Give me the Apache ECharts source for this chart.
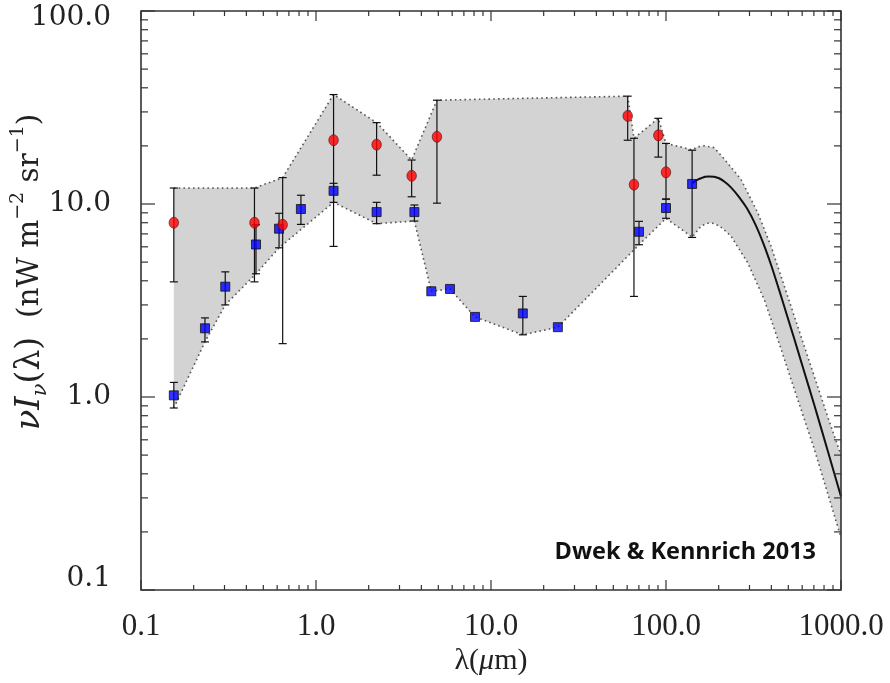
<!DOCTYPE html>
<html><head><meta charset="utf-8">
<script src="https://cdn.jsdelivr.net/npm/echarts@6/dist/echarts.min.js"></script>
<style>html,body{margin:0;padding:0;background:#fff}#c{width:890px;height:683px}</style>
</head><body><div id="c"></div>
<script>
// ---- data ----
const xTickLabels = ['0.1', '1.0', '10.0', '100.0', '1000.0'];
const yTickLabels = ['0.1', '1.0', '10.0', '100.0'];
const xMajor = [0.1, 1, 10, 100, 1000];
const yMajor = [0.1, 1, 10, 100];
const xMinor = [0.2,0.3,0.4,0.5,0.6,0.7,0.8,0.9, 2,3,4,5,6,7,8,9, 20,30,40,50,60,70,80,90, 200,300,400,500,600,700,800,900];
const yMinor = [0.2,0.3,0.4,0.5,0.6,0.7,0.8,0.9, 2,3,4,5,6,7,8,9, 20,30,40,50,60,70,80,90];

// red circles
const redX  = [0.154, 0.445, 0.645, 1.26, 2.22, 3.52, 4.91, 60.4, 65.6, 90.4, 100];
const redY  = [8.0, 8.0, 7.8, 21.4, 20.3, 14.0, 22.3, 28.6, 12.6, 22.7, 14.6];
const redHi = [12.1, 12.1, 13.7, 36.9, 26.4, 16.9, 34.5, 36.2, 21.9, 27.8, 20.6];
const redLo = [3.95, 3.95, 1.89, 6.03, 14.1, 10.9, 10.1, 21.4, 3.32, 17.5, 10.6];

// blue squares
const blueX  = [0.154, 0.232, 0.303, 0.454, 0.615, 0.82, 1.26, 2.22, 3.65, 4.56, 5.83, 8.1, 15.2, 24.1, 70.1, 100, 141];
const blueY  = [1.02, 2.27, 3.73, 6.17, 7.45, 9.42, 11.7, 9.08, 9.08, 3.53, 3.63, 2.60, 2.71, 2.30, 7.18, 9.53, 12.7];
const blueHi = [1.19, 2.57, 4.45, 7.8, 8.95, 11.1, 12.8, 10.2, 9.88, null, null, null, 3.32, null, 8.13, 10.6, 19.0];
const blueLo = [0.877, 1.93, 3.0, 4.35, 5.93, 7.84, 10.2, 7.91, 8.16, null, null, null, 2.1, null, 6.15, 8.43, 6.71];

// model spectrum (solid curve)
const modelX = [141, 150, 158.5, 167, 176, 188, 201, 217, 235, 261, 290, 325, 363, 400, 442, 490, 539, 615, 701, 843, 1000];
const modelY = [12.8, 13.3, 13.6, 13.85, 13.9, 13.85, 13.6, 13.0, 12.2, 10.9, 9.5, 7.8, 6.13, 4.79, 3.61, 2.67, 2.02, 1.36, 0.92, 0.52, 0.305];

// uncertainty band envelope (dotted)
const bandUpX = [0.154, 0.445, 0.645, 1.26, 2.22, 3.52, 4.91, 60.4, 65.6, 90.4, 100, 141, 152, 165.5, 188, 215.4, 268.4, 334.2, 398.1, 496, 645.3, 839.5, 1000];
const bandUpY = [12.1, 12.1, 13.7, 36.9, 26.4, 16.9, 34.5, 36.2, 21.9, 27.8, 20.6, 19.1, 19.8, 20.0, 19.6, 17.1, 13.4, 9.02, 6.05, 3.32, 1.62, 0.79, 0.50];
const bandLoX = [0.154, 0.232, 0.303, 0.454, 0.615, 1.26, 2.22, 3.65, 4.56, 5.83, 8.1, 15.2, 24.1, 70.1, 100, 141, 158.5, 172, 188.8, 210, 235.1, 293.1, 364.5, 430.8, 538.7, 701.1, 1000];
const bandLoY = [0.877, 1.93, 3.0, 4.35, 5.93, 10.2, 7.91, 8.16, 3.53, 3.63, 2.60, 2.10, 2.30, 6.15, 8.43, 6.74, 7.69, 7.95, 7.94, 7.5, 6.82, 4.96, 3.19, 2.05, 1.11, 0.543, 0.187];

// ---- chart ----
const X_MIN = 0.1, X_MAX = 1000, Y_MIN = 0.1, Y_MAX = 100;
const pairs = (xs, ys) => xs.map((x, i) => [x, ys[i]]);
const errs = (xs, lo, hi) => xs.map((x, i) => [x, lo[i], hi[i]]).filter(d => d[1] != null && d[2] != null);

const chart = echarts.init(document.getElementById('c'), null, {renderer: 'canvas'});

function ln(x1, y1, x2, y2, c, w) {
  return {type: 'line', shape: {x1, y1, x2, y2}, style: {stroke: c || '#333', lineWidth: w || 1.2}};
}

function errItem(params, api) {
  const x = api.value(0);
  const a = api.coord([x, api.value(1)]), b = api.coord([x, api.value(2)]);
  const w = 4, c = '#111';
  return {type: 'group', children: [
    ln(a[0], a[1], b[0], b[1], c, 1.2),
    ln(a[0] - w, a[1], a[0] + w, a[1], c, 1.2),
    ln(b[0] - w, b[1], b[0] + w, b[1], c, 1.2)
  ]};
}

const option = {
  animation: false,
  backgroundColor: '#fff',
  grid: {left: 141, right: 49, top: 11, bottom: 93, outerBoundsMode: 'none', containLabel: false},
  xAxis: {
    type: 'log', logBase: 10, min: X_MIN, max: X_MAX,
    axisLine: {show: false}, axisTick: {show: false}, splitLine: {show: false}, minorTick: {show: false},
    axisLabel: {
      show: true, showMinLabel: true, showMaxLabel: true, margin: 21,
      fontFamily: 'Liberation Serif', fontSize: 31, color: '#222',
      formatter: v => xTickLabels[Math.round(Math.log10(v)) + 1]
    }
  },
  yAxis: {
    type: 'log', logBase: 10, min: Y_MIN, max: Y_MAX,
    axisLine: {show: false}, axisTick: {show: false}, splitLine: {show: false}, minorTick: {show: false},
    axisLabel: {
      show: true, showMinLabel: true, showMaxLabel: true, margin: 30,
      fontFamily: 'DejaVu Serif', fontSize: 28, color: '#222',
      formatter: v => {
        const k = Math.round(Math.log10(v)) + 1;
        const t = yTickLabels[k];
        if (k === yTickLabels.length - 1) return '{top|' + t + '}';
        if (k === 0) return '{bot|' + t + '}';
        return t;
      },
      rich: {
        top: {fontFamily: 'DejaVu Serif', fontSize: 28, color: '#222', padding: [14, 0, 0, 0]},
        bot: {fontFamily: 'DejaVu Serif', fontSize: 28, color: '#222', padding: [0, 0, 22, 0]}
      }
    }
  },
  graphic: [
    {
      type: 'text', x: 30, y: 272, rotation: Math.PI / 2,
      style: {
        text: '{i|νI}{s|ν}{n|(λ)}{m|  (nW m}{p|−2}{m| sr}{p|−1}{m|)}',
        align: 'center', verticalAlign: 'middle', fill: '#222',
        rich: {
          i: {fontFamily: 'DejaVu Serif', fontStyle: 'italic', fontSize: 34, lineHeight: 42, verticalAlign: 'middle'},
          s: {fontFamily: 'DejaVu Serif', fontStyle: 'italic', fontSize: 21, verticalAlign: 'bottom', lineHeight: 42},
          n: {fontFamily: 'DejaVu Serif', fontSize: 33, lineHeight: 42, verticalAlign: 'middle'},
          m: {fontFamily: 'DejaVu Serif', fontSize: 29.5, lineHeight: 42, verticalAlign: 'middle'},
          p: {fontFamily: 'DejaVu Serif', fontSize: 19, lineHeight: 42, verticalAlign: 'top'}
        }
      }
    },
    {
      type: 'text', x: 491, y: 661,
      style: {
        text: '{n|λ(}{i|μ}{n|m)}', align: 'center', verticalAlign: 'middle', fill: '#222',
        rich: {
          n: {fontFamily: 'Liberation Serif', fontSize: 30},
          i: {fontFamily: 'Liberation Serif', fontStyle: 'italic', fontSize: 30}
        }
      }
    },
    {
      type: 'text', x: 816, y: 552,
      style: {
        text: 'Dwek & Kennrich 2013', align: 'right', verticalAlign: 'middle',
        fontFamily: 'Open Sans', fontWeight: 'bold', fontSize: 23.5, fill: '#111'
      }
    }
  ],
  series: [
    {
      type: 'custom', name: 'band', z: 1, silent: true,
      data: [[bandUpX[0], bandUpY[0]]],
      renderItem: (params, api) => {
        const pts = pairs(bandUpX, bandUpY).concat(pairs(bandLoX, bandLoY).reverse()).map(p => api.coord(p));
        return {type: 'polygon', shape: {points: pts}, style: {fill: '#d3d3d3', stroke: null}};
      }
    },
    {
      type: 'line', name: 'upper', z: 2, data: pairs(bandUpX, bandUpY), showSymbol: false, silent: true,
      lineStyle: {color: '#555', width: 1.6, type: [1.6, 3.2]}
    },
    {
      type: 'line', name: 'lower', z: 2, data: pairs(bandLoX, bandLoY), showSymbol: false, silent: true,
      lineStyle: {color: '#555', width: 1.6, type: [1.6, 3.2]}
    },
    {
      type: 'line', name: 'model', z: 3, data: pairs(modelX, modelY), showSymbol: false, smooth: 0.3, silent: true,
      lineStyle: {color: '#111', width: 2}
    },
    {
      type: 'custom', name: 'errRed', z: 4, silent: true,
      data: errs(redX, redLo, redHi), encode: {x: 0, y: [1, 2]},
      renderItem: errItem
    },
    {
      type: 'custom', name: 'errBlue', z: 4, silent: true,
      data: errs(blueX, blueLo, blueHi), encode: {x: 0, y: [1, 2]},
      renderItem: errItem
    },
    {
      type: 'scatter', name: 'blue', z: 5, data: pairs(blueX, blueY), symbol: 'rect', symbolSize: 9, silent: true,
      itemStyle: {color: '#0000ff', borderColor: '#111', borderWidth: 1}
    },
    {
      type: 'scatter', name: 'red', z: 6, data: pairs(redX, redY), symbol: 'circle', symbolSize: [9.5, 11], silent: true,
      itemStyle: {color: '#ff0000', borderColor: '#551111', borderWidth: 0.8}
    },
    {
      type: 'custom', name: 'frame', z: 10, silent: true,
      data: [[1, 1]],
      renderItem: (params, api) => {
        const bl = api.coord([X_MIN, Y_MIN]), tr = api.coord([X_MAX, Y_MAX]);
        const L = bl[0], B = bl[1], R = tr[0], T = tr[1];
        const c = '#333', ch = [];
        ch.push({type: 'rect', shape: {x: L, y: T, width: R - L, height: B - T}, style: {fill: 'transparent', stroke: c, lineWidth: 1.6}});
        xMajor.forEach(v => { const x = api.coord([v, Y_MIN])[0]; ch.push(ln(x, B, x, B - 10, c, 1.2), ln(x, T, x, T + 10, c, 1.2)); });
        xMinor.forEach(v => { const x = api.coord([v, Y_MIN])[0]; ch.push(ln(x, B, x, B - 5, c, 1.2), ln(x, T, x, T + 5, c, 1.2)); });
        yMajor.forEach(v => { const y = api.coord([X_MIN, v])[1]; ch.push(ln(L, y, L + 14, y, c, 1.2), ln(R, y, R - 14, y, c, 1.2)); });
        yMinor.forEach(v => { const y = api.coord([X_MIN, v])[1]; ch.push(ln(L, y, L + 7, y, c, 1.2), ln(R, y, R - 7, y, c, 1.2)); });
        return {type: 'group', children: ch};
      }
    }
  ]
};

chart.setOption(option);
</script>
</body></html>
